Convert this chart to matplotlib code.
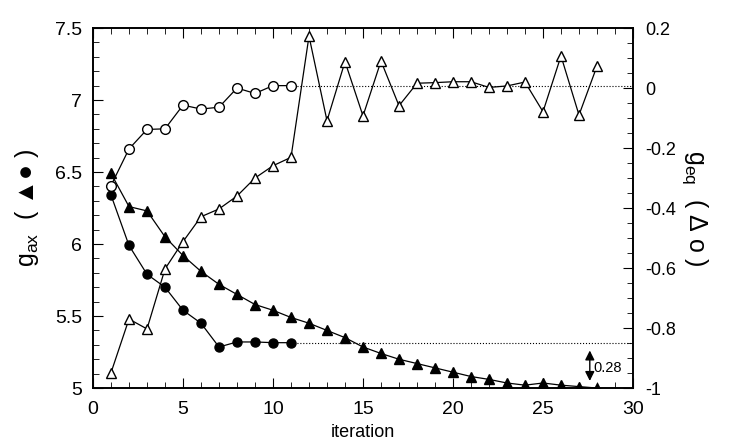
import numpy as np
import matplotlib.pyplot as plt

plt.rcParams['font.family'] = ['Liberation Sans', 'DejaVu Sans']

# g_ax, filled triangles (left axis)
it_tri = list(range(1, 29))
gax_tri = [6.49, 6.26, 6.23, 6.05, 5.92, 5.81, 5.72, 5.65, 5.58, 5.54,
           5.49, 5.45, 5.40, 5.35, 5.285, 5.24, 5.20, 5.17, 5.14, 5.11,
           5.08, 5.06, 5.035, 5.02, 5.035, 5.02, 5.01, 5.0]

# g_ax, filled circles (left axis)
it_circ = list(range(1, 12))
gax_circ = [6.34, 5.99, 5.79, 5.70, 5.54, 5.45, 5.285, 5.32, 5.32, 5.315, 5.315]

# g_eq, open circles (right axis)
geq_circ = [-0.325, -0.203, -0.138, -0.136, -0.057, -0.07, -0.064, 0.0, -0.018, 0.008, 0.008]

# g_eq, open triangles (right axis)
geq_tri = [-0.949, -0.77, -0.803, -0.603, -0.512, -0.429, -0.403, -0.36, -0.30, -0.259,
           -0.231, 0.173, -0.109, 0.088, -0.093, 0.09, -0.059, 0.016, 0.018, 0.021,
           0.021, 0.002, 0.007, 0.02, -0.079, 0.107, -0.09, 0.073]

fig = plt.figure(figsize=(7.5, 4.45), dpi=100)
ax = fig.add_axes([0.124, 0.128, 0.72, 0.809])
ax2 = ax.twinx()

# left axis series
ax.plot(it_tri, gax_tri, '-', color='black', lw=0.9, marker='^', ms=6.5, mfc='black', mec='black', zorder=3)
ax.plot(it_circ, gax_circ, '-', color='black', lw=0.9, marker='o', ms=6.5, mfc='black', mec='black', zorder=3)
ax.plot([it_circ[-1], 30], [gax_circ[-1], gax_circ[-1]], ':', color='black', lw=0.8)

# right axis series
ax2.plot(it_circ, geq_circ, '-', color='black', lw=0.9, marker='o', ms=7, mfc='white', mec='black', zorder=3)
ax2.plot(it_tri, geq_tri, '-', color='black', lw=0.9, marker='^', ms=7, mfc='white', mec='black', zorder=3)
ax2.plot([it_circ[-1], 30], [geq_circ[-1], geq_circ[-1]], ':', color='black', lw=0.8)

# 0.28 arrow
ax.annotate('', xy=(27.6, 5.03), xytext=(27.6, 5.28),
            arrowprops=dict(arrowstyle='<|-|>', color='black', lw=1.0, mutation_scale=14))
ax.text(27.8, 5.14, '0.28', fontsize=10.5, va='center', ha='left')

ax.set_xlim(0, 30)
ax.set_ylim(5, 7.5)
ax2.set_ylim(-1, 0.2)

ax.set_xticks(np.arange(0, 31, 5))
ax.set_xticks(np.arange(0, 31, 1), minor=True)
ax.set_yticks(np.arange(5, 7.51, 0.5))
ax.set_yticklabels(['5', '5.5', '6', '6.5', '7', '7.5'])
ax.set_yticks(np.arange(5, 7.51, 0.1), minor=True)
ax2.set_yticks(np.arange(-1, 0.21, 0.2))
ax2.set_yticklabels(['-1', '-0.8', '-0.6', '-0.4', '-0.2', '0', '0.2'])
ax2.set_yticks(np.arange(-1, 0.21, 0.05), minor=True)

ax.tick_params(axis='both', which='both', direction='in', top=True)
ax.tick_params(axis='y', labelsize=14, pad=8)
ax.tick_params(axis='x', labelsize=14, pad=9)
ax.tick_params(which='major', length=7)
ax.tick_params(which='minor', length=4)
ax2.tick_params(axis='y', which='both', direction='in', labelsize=13, pad=9)
ax2.tick_params(which='major', length=7)
ax2.tick_params(which='minor', length=4)

for a in (ax, ax2):
    for s in a.spines.values():
        s.set_linewidth(1.2)

ax.set_xlabel('iteration', fontsize=13, labelpad=5)
ax.set_ylabel(r'$\mathregular{g_{ax}}$  ( ▲● )', fontsize=18, labelpad=10)
ax2.set_ylabel(r'$\mathregular{g_{eq}}$  ( Δ o )', fontsize=18, rotation=-90, labelpad=24)

fig.savefig('out.png', dpi=100)
